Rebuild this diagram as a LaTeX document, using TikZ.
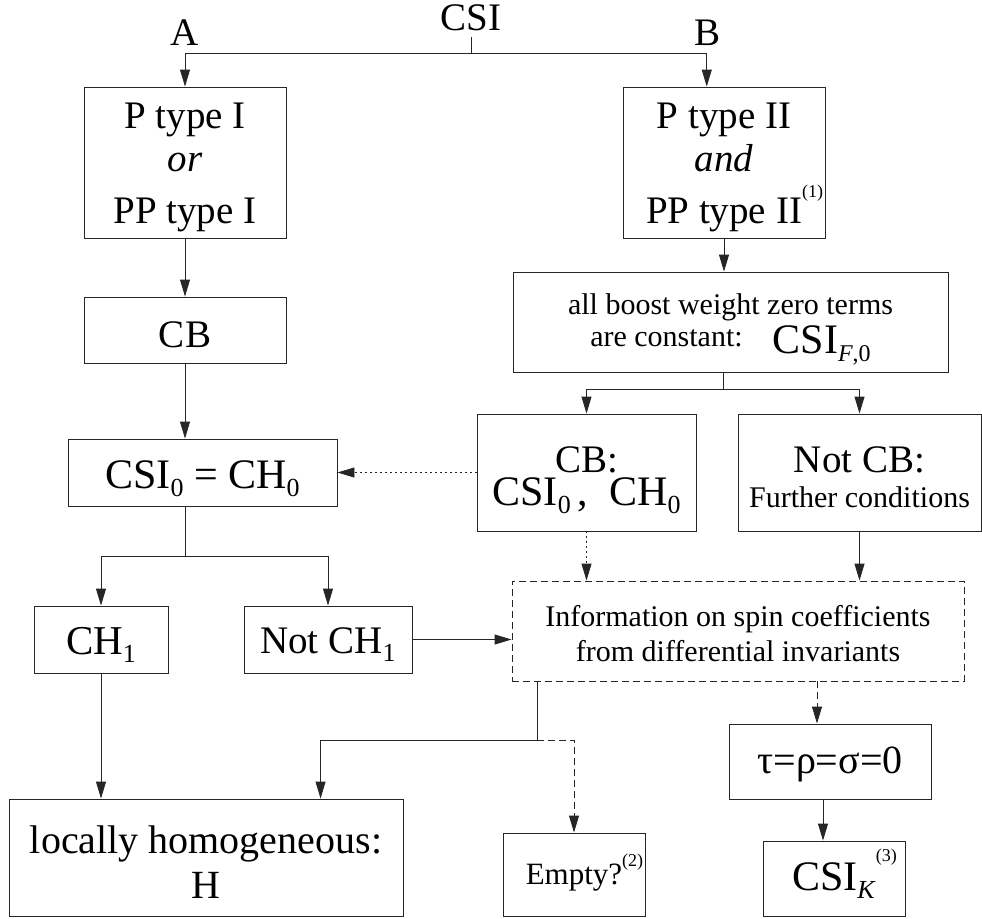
\documentclass[tikz,border=0pt]{standalone}
\usepackage{fontspec}
\setmainfont{Liberation Serif}
\usetikzlibrary{arrows.meta,calc}
\newcommand{\lsub}[2][26]{\raisebox{-8pt}{\fontsize{#1}{#1}\selectfont #2}}
\newcommand{\fnote}[2]{\rlap{\smash{\raisebox{#1}{\fontsize{18}{18}\selectfont(#2)}}}}
\newcommand{\dn}[2][5pt]{\raisebox{-#1}[\height][\depth]{#2}}
\begin{document}
\begin{tikzpicture}[x=1pt,y=-1pt,
  box/.style={draw=black!85, line width=0.9pt, inner sep=0pt, align=center, font=\fontsize{39}{43}\selectfont},
  ln/.style={draw=black!85, line width=0.9pt},
  arr/.style={ln, -{Triangle[length=17pt,width=10pt]}},
  dsh/.style={dash pattern=on 7pt off 4pt},
  dot/.style={dash pattern=on 1.5pt off 3.5pt},
  lbl/.style={inner sep=0pt, font=\fontsize{39}{43}\selectfont}]
\useasboundingbox (0,0) rectangle (982,918);

% top labels
\node[lbl,anchor=base] (csi) at (471,30) {CSI};
\node[lbl,anchor=base] (A) at (185,45) {A};
\node[lbl,anchor=base] (B) at (707,45) {B};

% boxes
\node[box,minimum width=202pt,minimum height=151pt] (ptI) at (185,162.5)
  {\dn{P type I}\\\dn{\textit{or}}\\[9pt]\dn{PP type I}};
\node[box,minimum width=202pt,minimum height=151pt] (ptII) at (724,162.5)
  {\dn{P type II}\hspace{15pt}\\\dn{\textit{and}}\hspace{15pt}\\[9pt]\dn{PP type II\fnote{26pt}{1}}\hspace{15pt}};
\node[box,minimum width=202pt,minimum height=66pt] (cb) at (185,330) {\dn{CB}};
\node[box,minimum width=269pt,minimum height=67pt,font=\fontsize{42}{46}\selectfont] (csi0) at (202.5,472.5)
  {\dn[6pt]{CSI\lsub{0} = CH\lsub{0}}};
\node[box,minimum width=134pt,minimum height=67pt,font=\fontsize{41}{46}\selectfont] (ch1) at (101,639.5) {\dn{CH\lsub{1}}};
\node[box,minimum width=168pt,minimum height=67pt] (notch1) at (328,639.5) {\dn{Not CH\lsub{1}}};
\node[box,minimum width=394pt,minimum height=117pt,font=\fontsize{40}{45}\selectfont] (h) at (206,857.5)
  {\dn{locally homogeneous:}\\\dn{H}};
\node[box,minimum width=435pt,minimum height=100pt,font=\fontsize{30}{32}\selectfont] (boost) at (730.5,322)
  {\dn[7pt]{all boost weight zero terms}\\\dn[7pt]{are constant:\hspace{30pt}\raisebox{-7pt}{\fontsize{42}{42}\selectfont CSI\lsub[24]{\textit{F},0}}}};
\node[box,minimum width=219pt,minimum height=117pt,font=\fontsize{39}{33}\selectfont] (cb2) at (586.5,472.5)
  {\dn[10pt]{CB:}\\[4pt]\dn[6pt]{\fontsize{42}{33}\selectfont CSI\lsub{0}\,,\ \ CH\lsub{0}}};
\node[box,minimum width=243pt,minimum height=117pt,font=\fontsize{39}{35}\selectfont] (notcb) at (859.5,472.5)
  {\dn[5pt]{Not CB:}\\\dn[5pt]{\fontsize{30}{35}\selectfont Further conditions}};
\node[box,dsh,minimum width=452pt,minimum height=100pt,font=\fontsize{30}{35}\selectfont] (info) at (738,631)
  {\dn[3pt]{Information on spin coefficients}\\\dn[3pt]{from differential invariants}};
\node[box,minimum width=142pt,minimum height=83pt,font=\fontsize{31}{35}\selectfont] (empty) at (574,874.5)
  {\dn[3pt]{Empty?\fnote{18pt}{2}}};
\node[box,minimum width=202pt,minimum height=75pt,font=\fontsize{40}{45}\selectfont] (tau) at (830,761.5)
  {\dn[3pt]{τ=ρ=σ=0}};
\node[box,minimum width=142pt,minimum height=75pt,font=\fontsize{42}{46}\selectfont] (csik) at (834,878.5)
  {\dn[2pt]{CSI\lsub{\textit{K}}\fnote{29pt}{3}}};

% connectors
\coordinate (j1) at (471,53);
\draw[ln] ([yshift=-7pt]csi.base) -- (j1);
\draw[arr] (j1) -| (ptI.north);
\coordinate (bIn) at ($(ptII.north west)!0.415!(ptII.north east)$);
\draw[arr] (j1) -| (bIn);
\draw[arr] (ptI.south) -- (cb.north);
\draw[arr] (cb.south) -- (cb.south |- csi0.north);
\coordinate (j2) at (185,556);
\draw[ln] (cb.south |- csi0.south) -- (j2);
\draw[arr] (j2) -| (ch1.north);
\draw[arr] (j2) -| (notch1.north);
\draw[arr] (ch1.south) -- (ch1.south |- h.north);
\draw[arr] (notch1.east) -- (notch1.east -| info.west);
\draw[arr] (ptII.south) -- (ptII.south |- boost.north);
\coordinate (j3) at (723,389);
\draw[ln] (boost.south -| j3) -- (j3);
\draw[arr] (j3) -| (cb2.north);
\draw[arr] (j3) -| (notcb.north);
\draw[arr,dot] (cb2.west) -- (csi0.east);
\draw[arr,dot] (cb2.south) -- (cb2.south |- info.north);
\draw[arr] (notcb.south) -- (notcb.south |- info.north);
\coordinate (j4) at (537,740);
\draw[ln] (info.south -| j4) -- (j4);
\draw[arr] (j4) -| ([xshift=312pt]h.north west);
\draw[arr,dsh] (j4) -| (empty.north);
\coordinate (t1) at ([xshift=-13pt]tau.north);
\draw[arr,dsh] (info.south -| t1) -- (t1);
\coordinate (t2) at ([xshift=-7pt]tau.south);
\draw[arr] (t2) -- (t2 |- csik.north);
\end{tikzpicture}
\end{document}
